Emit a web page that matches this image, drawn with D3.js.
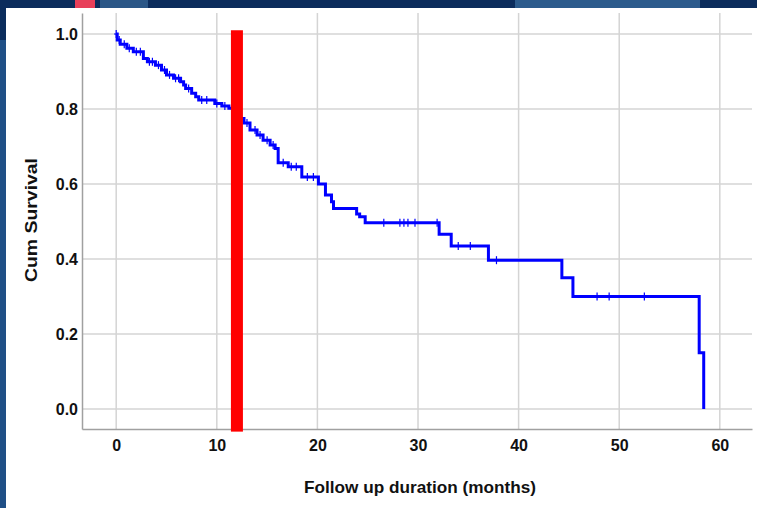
<!DOCTYPE html>
<html>
<head>
<meta charset="utf-8">
<script src="https://cdn.jsdelivr.net/npm/d3@7"></script>
<style>
  body { margin: 0; background: #0b2c5c; }
  svg { display: block; }
</style>
</head>
<body>
<div id="chart"></div>
<script>
// Kaplan-Meier steps: time (months) at which survival drops, and the new level
const stepTimes = [0.1, 0.4, 1.06, 1.7, 2.7, 3.1, 3.9, 4.5, 5.0, 5.7, 6.4, 6.7, 6.9, 7.5, 7.9, 8.2,
  9.8, 10.5, 11.2, 11.8, 12.3, 12.7, 13.3, 14.0, 14.6, 15.3, 15.8, 16.1, 17.1, 18.45, 20.1,
  20.8, 21.4, 21.6, 23.9, 24.2, 24.75, 32.1, 33.3, 37.0, 44.3, 45.4, 57.95, 58.4];
const stepSurv = [0.984, 0.973, 0.962, 0.953, 0.935, 0.926, 0.917, 0.904, 0.891, 0.882, 0.873, 0.864, 0.855, 0.842, 0.833, 0.824,
  0.815, 0.808, 0.802, 0.79, 0.775, 0.763, 0.744, 0.731, 0.717, 0.704, 0.695, 0.657, 0.646, 0.619, 0.600,
  0.571, 0.553, 0.535, 0.52, 0.513, 0.497, 0.466, 0.435, 0.397, 0.350, 0.300, 0.150, 0.0];
// censored cases (months)
const censorTimes = [0.0, 0.3, 0.8, 1.3, 2.0, 2.4, 3.3, 3.6, 4.2, 4.8, 5.3, 5.9, 6.2, 7.2, 8.5, 9.0, 10.0, 10.8,
  13.0, 13.8, 14.3, 15.0, 15.6, 16.6, 17.4, 17.9, 19.0, 19.6, 26.6, 28.2, 28.6, 29.0, 29.7, 31.9,
  34.0, 35.2, 37.8, 47.8, 49.0, 52.5];
const xTicks = [0, 10, 20, 30, 40, 50, 60];
const yTicks = [0.0, 0.2, 0.4, 0.6, 0.8, 1.0];
const markerMonth = 12; // red marker
const markerRange = [1.01, -0.06];

const conf = {
  width: 757, height: 508,
  plotLeft: 82, plotRight: 752, plotTop: 13, plotBottom: 429,
  font: "Liberation Sans, Arial, sans-serif",
};

const svg = d3.select("#chart").append("svg")
    .attr("width", conf.width)
    .attr("height", conf.height)
    .attr("viewBox", [0, 0, conf.width, conf.height]);

// slide background bits
svg.append("rect").attr("width", conf.width).attr("height", conf.height).attr("fill", "#0b2c5c");
svg.append("rect").attr("x", 75).attr("y", 0).attr("width", 20).attr("height", 8).attr("fill", "#e8405a");
svg.append("rect").attr("x", 100).attr("y", 0).attr("width", 48).attr("height", 8).attr("fill", "#2b5787");
svg.append("rect").attr("x", 515).attr("y", 0).attr("width", 185).attr("height", 8).attr("fill", "#2c5b8c");
svg.append("rect").attr("x", 0).attr("y", 40).attr("width", 6).attr("height", 468).attr("fill", "#1f4f86");
svg.append("rect").attr("x", 6).attr("y", 8).attr("width", conf.width - 6).attr("height", conf.height - 8).attr("fill", "#ffffff");

const xScale = d3.scaleLinear([-3.4, 63.2], [conf.plotLeft, conf.plotRight]);
const yScale = d3.scaleLinear([-0.053, 1.056], [conf.plotBottom, conf.plotTop]);

const gridColor = "#d4d4d4";
// grid
svg.append("g")
  .selectAll("line").data(yTicks).join("line")
    .attr("x1", conf.plotLeft).attr("x2", conf.plotRight)
    .attr("y1", d => yScale(d)).attr("y2", d => yScale(d))
    .attr("stroke", gridColor).attr("stroke-width", 1.5);
svg.append("g")
  .selectAll("line").data(xTicks).join("line")
    .attr("x1", d => xScale(d)).attr("x2", d => xScale(d))
    .attr("y1", conf.plotTop).attr("y2", conf.plotBottom)
    .attr("stroke", gridColor).attr("stroke-width", 1.5);

// axes
const yAxis = d3.axisLeft(yScale).tickValues(yTicks).tickFormat(d3.format(".1f")).tickSize(0).tickPadding(4);
const xAxis = d3.axisBottom(xScale).tickValues(xTicks).tickFormat(d3.format("d")).tickSize(0).tickPadding(11);
const ya = svg.append("g").attr("transform", `translate(${conf.plotLeft},0)`).call(yAxis);
const xa = svg.append("g").attr("transform", `translate(0,${conf.plotBottom})`).call(xAxis);
[ya, xa].forEach(g => {
  g.select(".domain").attr("stroke", "#a0a0a0").attr("stroke-width", 1.5);
  g.selectAll("text")
    .attr("fill", "#111")
    .attr("font-family", conf.font)
    .attr("font-weight", "bold")
    .attr("font-size", 16);
});

// axis titles
svg.append("text")
    .attr("x", 420)
    .attr("y", 493)
    .attr("text-anchor", "middle")
    .attr("font-family", conf.font)
    .attr("font-weight", "bold").attr("font-size", 17)
    .attr("fill", "#111")
    .attr("textLength", 232).attr("lengthAdjust", "spacingAndGlyphs")
    .text("Follow up duration (months)");
svg.append("text")
    .attr("transform", "translate(37,220) rotate(-90)")
    .attr("text-anchor", "middle")
    .attr("font-family", conf.font)
    .attr("font-weight", "bold").attr("font-size", 17)
    .attr("fill", "#111")
    .attr("textLength", 124).attr("lengthAdjust", "spacingAndGlyphs")
    .text("Cum Survival");

// survival curve
const pts = [[0, 1.0]].concat(stepTimes.map((t, i) => [t, stepSurv[i]]));
const line = d3.line()
  .curve(d3.curveStepAfter)
  .x(d => xScale(d[0]))
  .y(d => yScale(d[1]));
svg.append("path")
    .attr("d", line(pts))
    .attr("fill", "none")
    .attr("stroke", "#0000ff")
    .attr("stroke-width", 3)
    .attr("stroke-linejoin", "miter");

// censor marks
function survAt(t) {
  let s = 1.0;
  for (let i = 0; i < stepTimes.length; i++) { if (stepTimes[i] <= t) s = stepSurv[i]; }
  return s;
}
const cg = svg.append("g").attr("stroke", "#0000ff").attr("stroke-width", 1.2);
censorTimes.forEach(t => {
  const cx = xScale(t), cy = yScale(survAt(t));
  cg.append("line").attr("x1", cx).attr("x2", cx).attr("y1", cy - 4).attr("y2", cy + 4);
  cg.append("line").attr("x1", cx - 2).attr("x2", cx + 2).attr("y1", cy).attr("y2", cy);
});

// red marker
svg.append("rect")
    .attr("x", xScale(markerMonth) - 6)
    .attr("y", yScale(markerRange[0]))
    .attr("width", 12)
    .attr("height", yScale(markerRange[1]) - yScale(markerRange[0]))
    .attr("fill", "#ff0000");
</script>
</body>
</html>
